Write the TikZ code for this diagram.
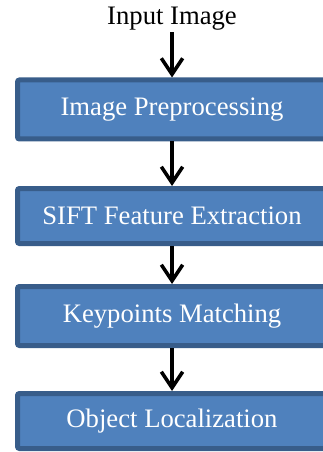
\documentclass[tikz,border=0pt]{standalone}
\usepackage{fontspec}
\setmainfont{Liberation Serif}
\usepackage{xcolor}
\usetikzlibrary{positioning,arrows.meta}
\definecolor{boxfill}{HTML}{4F81BD}
\definecolor{boxline}{HTML}{385D8A}

\begin{document}
\begin{tikzpicture}[x=0.75pt,y=-0.75pt,
    procbox/.style={draw=boxline, fill=boxfill, line width=3.75pt, rounded corners=1.5pt,
        minimum width=231.75pt, minimum height=41.25pt, inner sep=0pt,
        text=white, font=\fontsize{20}{24}\selectfont},
    flow/.style={line width=2.7pt, -{Straight Barb[length=12pt,width=16pt]}}]
    \useasboundingbox (0,0) rectangle (322,452);
    \node[font=\fontsize{20}{24}\selectfont, inner sep=1pt] (input) at (172,19) {Input Image};
    \node[procbox, minimum height=44.25pt] (prep) at (172,109.5) {Image Preprocessing};
    \node[procbox] (sift) at (172,216) {SIFT Feature Extraction};
    \node[procbox, minimum height=44.25pt] (match) at (172,316) {Keypoints Matching};
    \node[procbox] (local) at (172,421) {Object Localization};
    % arrows between steps
    \draw[flow] (input) -- (prep);
    \draw[flow] (prep) -- (sift);
    \draw[flow] (sift) -- (match);
    \draw[flow] (match) -- (local);
\end{tikzpicture}
\end{document}
